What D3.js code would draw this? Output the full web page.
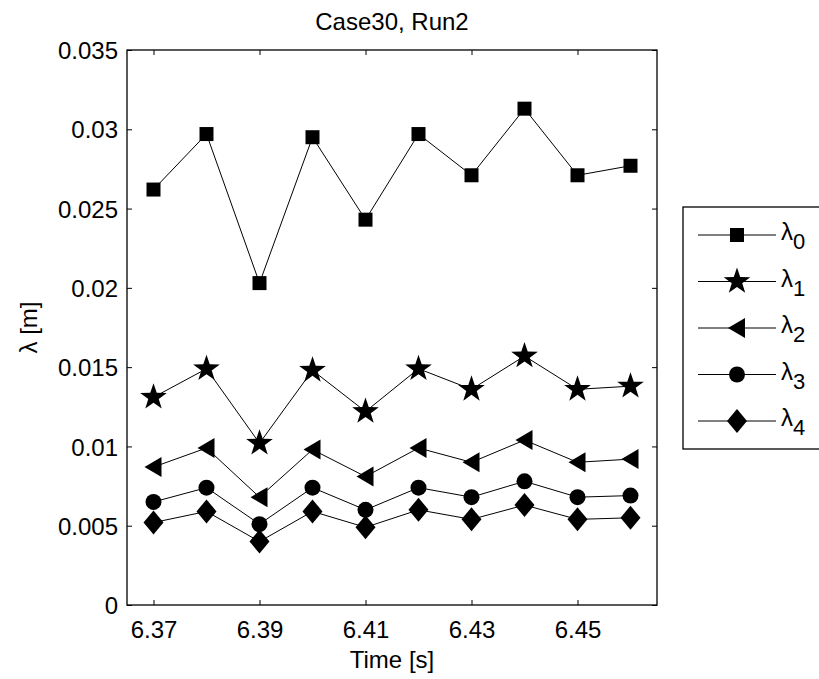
<!DOCTYPE html>
<html><head><meta charset="utf-8">
<script src="https://cdn.jsdelivr.net/npm/d3@7/dist/d3.min.js"></script>
<style>body{margin:0;background:#fff}svg{display:block}text{font-family:"Liberation Sans",Arial,sans-serif;fill:#000}</style>
</head><body><svg id="c" width="819" height="679"></svg>
<script>
const times = [6.37,6.38,6.39,6.40,6.41,6.42,6.43,6.44,6.45,6.46];
const lambda0 = [0.0262,0.0297,0.0203,0.0295,0.0243,0.0297,0.0271,0.0313,0.0271,0.0277];
const lambda1 = [0.0131,0.0149,0.0102,0.0148,0.0122,0.0149,0.0136,0.0157,0.0136,0.0138];
const lambda2 = [0.0087,0.0099,0.0068,0.0098,0.0081,0.0099,0.0090,0.0104,0.0090,0.0092];
const lambda3 = [0.0065,0.0074,0.0051,0.0074,0.0060,0.0074,0.0068,0.0078,0.0068,0.0069];
const lambda4 = [0.0052,0.0059,0.0040,0.0059,0.0049,0.0060,0.0054,0.0063,0.0054,0.0055];
const seriesNames = ["0","1","2","3","4"];
const markers = ["square","star","triangleLeft","circle","diamond"];
const xTicks = [6.37,6.39,6.41,6.43,6.45];
const yTicks = [0,0.005,0.01,0.015,0.02,0.025,0.03,0.035];
const yTickLabels = ["0","0.005","0.01","0.015","0.02","0.025","0.03","0.035"];
const title = "Case30, Run2";
const xLabel = "Time [s]";
const yLabel = "λ [m]";

const allSeries = [lambda0,lambda1,lambda2,lambda3,lambda4];
const svg = d3.select("#c");
const L=127,R=657,T=50,B=605;
const x = d3.scaleLinear().domain([6.365,6.465]).range([L,R]);
const y = d3.scaleLinear().domain([0,0.035]).range([B,T]);

function markerPath(type){
  switch(type){
    case "square": return "M-7,-7H7V7H-7Z";
    case "star": {
      const pts=[];for(let i=0;i<10;i++){const r=i%2?5.5:14;const a=-Math.PI/2+i*Math.PI/5;pts.push([r*Math.cos(a),r*Math.sin(a)]);}
      return "M"+pts.map(p=>p.join(",")).join("L")+"Z";}
    case "triangleLeft": return "M-9,0L8,-10L8,10Z";
    case "circle": return "M8,0A8,8 0 1,1 -8,0A8,8 0 1,1 8,0Z";
    case "diamond": return "M0,-12L10,0L0,12L-10,0Z";
  }
}

const fs=24;
const g=svg.append("g");
g.append("rect").attr("x",L).attr("y",T).attr("width",R-L).attr("height",B-T).attr("fill","none").attr("stroke","#000").attr("stroke-width",1.3);
const xa=d3.axisBottom(x).tickValues(xTicks).tickSize(-5).tickFormat(d3.format(".2f"));
const gx=g.append("g").attr("transform",`translate(0,${B})`).call(xa);
gx.select(".domain").remove();
gx.selectAll("text").attr("font-size",fs).attr("dy",0).attr("y",33).attr("font-family","Liberation Sans, Arial");
const xat=d3.axisTop(x).tickValues(xTicks).tickSize(-5).tickFormat("");
const gxt=g.append("g").attr("transform",`translate(0,${T})`).call(xat);gxt.select(".domain").remove();
const ya=d3.axisLeft(y).tickValues(yTicks).tickSize(-5).tickFormat((d,i)=>yTickLabels[i]);
const gy=g.append("g").attr("transform",`translate(${L},0)`).call(ya);
gy.select(".domain").remove();
gy.selectAll("text").attr("font-size",fs).attr("x",-9).attr("dy","0.36em").attr("font-family","Liberation Sans, Arial");
const yar=d3.axisRight(y).tickValues(yTicks).tickSize(-5).tickFormat("");
const gyr=g.append("g").attr("transform",`translate(${R},0)`).call(yar);gyr.select(".domain").remove();
svg.selectAll(".tick line").attr("stroke","#000").attr("stroke-width",1);

svg.append("text").attr("x",(L+R)/2).attr("y",30).attr("text-anchor","middle").attr("font-size",fs).text(title);
svg.append("text").attr("x",(L+R)/2).attr("y",668).attr("text-anchor","middle").attr("font-size",fs).text(xLabel);
svg.append("text").attr("transform",`translate(37,${(T+B)/2}) rotate(-90)`).attr("text-anchor","middle").attr("font-size",fs).text(yLabel);

const line=d3.line().x((d,i)=>x(times[i])).y(d=>y(d));
allSeries.forEach((s,k)=>{
  svg.append("path").datum(s).attr("d",line).attr("fill","none").attr("stroke","#000").attr("stroke-width",1);
  svg.append("g").selectAll("path").data(s).join("path")
    .attr("transform",(d,i)=>`translate(${x(times[i])},${y(d)})`)
    .attr("d",markerPath(markers[k])).attr("fill","#000");
});

// legend
const lg=svg.append("g");
const lTop=207, lSp=46.5, l0=235;
lg.append("rect").attr("x",683).attr("y",lTop).attr("width",160).attr("height",l0+lSp*4+28-lTop).attr("fill","#fff").attr("stroke","#000").attr("stroke-width",1.3);
seriesNames.forEach((n,k)=>{
  const yy=l0+k*lSp;
  lg.append("line").attr("x1",698).attr("x2",776).attr("y1",yy).attr("y2",yy).attr("stroke","#000").attr("stroke-width",1);
  lg.append("path").attr("transform",`translate(737,${yy})`).attr("d",markerPath(markers[k])).attr("fill","#000");
  const t=lg.append("text").attr("x",781).attr("y",yy+5).attr("font-size",fs);
  t.append("tspan").text("λ");
  t.append("tspan").attr("dy",9).attr("font-size",22).text(n);
});
</script></body></html>
